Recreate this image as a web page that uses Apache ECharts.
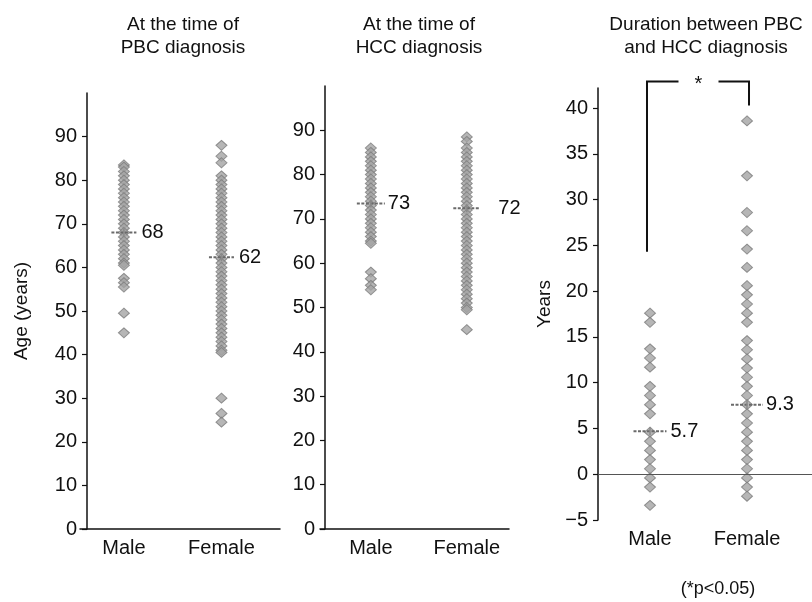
<!DOCTYPE html>
<html>
<head>
<meta charset="utf-8">
<script src="https://cdn.jsdelivr.net/npm/echarts@6/dist/echarts.min.js"></script>
<style>
  html, body { margin: 0; padding: 0; background: #fff; }
  #chart { width: 812px; height: 602px; }
</style>
</head>
<body>
<div id="chart"></div>
<script>
// categories
var categories = ['Male', 'Female'];

// age at PBC diagnosis
var pbcMale = [83.5, 83, 82, 81, 80, 79, 78, 77, 76, 75, 74, 73, 72, 71, 70, 69, 68, 67, 66, 65,
  64, 63, 62, 61, 60.5, 57.5, 56.5, 55.5, 49.5, 45];
var pbcFemale = [88, 85.5, 84, 81, 80, 79, 78, 77, 76, 75, 74, 73, 72, 71, 70, 69, 68, 67, 66, 65,
  64, 63, 62, 61, 60, 59, 58, 57, 56, 55, 54, 53, 52, 51, 50, 49, 48, 47, 46, 45, 44, 43, 42, 41,
  40.5, 30, 26.5, 24.5];
var pbcMean = [68, 62.3];
var pbcMeanLabels = ['68', '62'];

// age at HCC diagnosis
var hccMale = [86, 85, 84, 83, 82, 81, 80, 79, 78, 77, 76, 75, 74, 73, 72, 71, 70, 69, 68, 67,
  66, 65, 64.5, 58, 56.5, 55, 54];
var hccFemale = [88.5, 87.5, 86, 85, 84, 83, 82, 81, 80, 79, 78, 77, 76, 75, 74, 73, 72, 71, 70,
  69, 68, 67, 66, 65, 64, 63, 62, 61, 60, 59, 58, 57, 56, 55, 54, 53, 52, 51, 50, 49.5, 45];
var hccMean = [73.5, 72.4];
var hccMeanLabels = ['73', '72'];

// years between PBC and HCC diagnosis
var durMale = [17.6, 16.6, 13.7, 12.7, 11.7, 9.6, 8.6, 7.6, 6.6, 4.6, 3.6, 2.6, 1.6, 0.6, -0.4,
  -1.4, -3.4];
var durFemale = [38.6, 32.6, 28.6, 26.6, 24.6, 22.6, 20.6, 19.6, 18.6, 17.6, 16.6, 14.6, 13.6,
  12.6, 11.6, 10.6, 9.6, 8.6, 7.6, 6.6, 5.6, 4.6, 3.6, 2.6, 1.6, 0.6, -0.4, -1.4, -2.4];
var durMean = [4.7, 7.6];
var durMeanLabels = ['5.7', '9.3'];

// significance bracket: left arm bottom, top, right arm bottom (years)
var bracket = [24.3, 42.9, 40.3];

var ageTicks = [0, 10, 20, 30, 40, 50, 60, 70, 80, 90];
var durTicks = [-5, 0, 5, 10, 15, 20, 25, 30, 35, 40];

var FONT = 'Liberation Sans, Arial, sans-serif';
var INK = '#111';

var myChart = echarts.init(document.getElementById('chart'));

function pts(vals, idx) {
  var out = [];
  for (var i = 0; i < vals.length; i++) out.push([idx, vals[i]]);
  return out;
}

function dotSeries(k, vals, idx) {
  return {
    type: 'scatter',
    xAxisIndex: k, yAxisIndex: k,
    symbol: 'diamond',
    symbolSize: [11, 10],
    data: pts(vals, idx),
    itemStyle: { color: '#a4a4a4', borderColor: '#7c7c7c', borderWidth: 1 },
    silent: true,
    z: 3
  };
}

function meanSeries(k, means, labels, half, gaps) {
  return {
    type: 'custom',
    xAxisIndex: k, yAxisIndex: k,
    data: [[0, means[0]], [1, means[1]]],
    silent: true,
    z: 5,
    renderItem: function (params, api) {
      var p = api.coord([api.value(0), api.value(1)]);
      var i = params.dataIndex;
      return {
        type: 'group',
        children: [
          { type: 'line', shape: { x1: p[0] - half[i], y1: p[1], x2: p[0] + half[i], y2: p[1] },
            style: { stroke: '#6a6a6a', lineWidth: 2, lineDash: [3, 1.5] } },
          { type: 'line', shape: { x1: p[0], y1: p[1] - 4, x2: p[0], y2: p[1] + 4 },
            style: { stroke: '#8a8a8a', lineWidth: 1.5 } },
          { type: 'text', x: p[0] + half[i] + gaps[i], y: p[1],
            style: { text: labels[i], font: '20px ' + FONT, fill: INK, verticalAlign: 'middle', align: 'left' } }
        ]
      };
    }
  };
}

function xAxisFor(k, min, max, showLine) {
  return {
    gridIndex: k,
    type: 'value',
    min: min, max: max,
    splitLine: { show: false },
    axisTick: { show: false },
    axisLine: { show: showLine, onZero: false, lineStyle: { color: INK, width: 1.5 } },
    axisLabel: {
      customValues: [0, 1],
      formatter: function (v) { return categories[Math.round(v)]; },
      fontSize: 20, fontFamily: FONT, color: INK, margin: 9
    }
  };
}

function yAxisFor(k, min, max, ticks, offset, name, nameGap) {
  return {
    gridIndex: k,
    type: 'value',
    min: min, max: max,
    offset: offset,
    name: name,
    nameLocation: 'middle',
    nameGap: nameGap,
    nameTextStyle: { fontSize: 19, fontFamily: FONT, color: INK },
    splitLine: { show: false },
    axisLine: { show: true, onZero: false, lineStyle: { color: INK, width: 1.5 } },
    axisTick: { show: true, length: 5, customValues: ticks, lineStyle: { color: INK, width: 1.2 } },
    axisLabel: {
      customValues: ticks, fontSize: 20, fontFamily: FONT, color: INK, margin: 10,
      formatter: function (v) { return String(v).replace('-', '\u2212'); }
    }
  };
}

var option = {
  animation: false,
  backgroundColor: '#fff',
  grid: [
    { left: 80, top: 93, width: 200, height: 436 },
    { left: 320, top: 86, width: 189, height: 443 },
    { left: 598, top: 88, width: 214, height: 432 }
  ],
  xAxis: [
    xAxisFor(0, -0.45, 1.6, true),
    xAxisFor(1, -0.53, 1.44, true),
    xAxisFor(2, -0.536, 1.67, false)
  ],
  yAxis: [
    yAxisFor(0, 0, 100, ageTicks, -7, 'Age (years)', 56),
    yAxisFor(1, 0, 100, ageTicks, -5, '', 0),
    yAxisFor(2, -5, 42.2, durTicks, 0, 'Years', 44)
  ],
  series: [
    dotSeries(0, pbcMale, 0),
    dotSeries(0, pbcFemale, 1),
    meanSeries(0, pbcMean, pbcMeanLabels, [12.5, 12.5], [5, 5]),
    dotSeries(1, hccMale, 0),
    dotSeries(1, hccFemale, 1),
    meanSeries(1, hccMean, hccMeanLabels, [14, 13.5], [3, 18]),
    dotSeries(2, durMale, 0),
    dotSeries(2, durFemale, 1),
    meanSeries(2, durMean, durMeanLabels, [16.5, 16], [4, 3]),
    {
      // zero line for the duration panel
      type: 'scatter',
      xAxisIndex: 2, yAxisIndex: 2,
      data: [],
      markLine: {
        silent: true,
        symbol: 'none',
        label: { show: false },
        lineStyle: { color: '#555', width: 1, type: 'solid' },
        data: [{ yAxis: 0 }]
      }
    },
    {
      // significance bracket
      type: 'custom',
      xAxisIndex: 2, yAxisIndex: 2,
      data: [[0, bracket[0]]],
      silent: true,
      clip: false,
      renderItem: function (params, api) {
        var a = api.coord([0, bracket[0]]);
        var t = api.coord([0, bracket[1]]);
        var b = api.coord([1, bracket[2]]);
        var mid = (a[0] + b[0]) / 2;
        var st = { stroke: INK, lineWidth: 2, fill: null };
        return {
          type: 'group',
          children: [
            { type: 'polyline', shape: { points: [[a[0] - 3, a[1]], [a[0] - 3, t[1]], [mid - 20, t[1]]] }, style: st },
            { type: 'polyline', shape: { points: [[mid + 20, t[1]], [b[0] + 2, t[1]], [b[0] + 2, b[1]]] }, style: st },
            { type: 'text', x: mid, y: t[1] + 3,
              style: { text: '*', font: '20px ' + FONT, fill: INK, align: 'center', verticalAlign: 'middle' } }
          ]
        };
      }
    }
  ],
  graphic: [
    { type: 'text', x: 183, y: 13, silent: true,
      style: { text: 'At the time of\nPBC diagnosis', font: '19px ' + FONT, lineHeight: 23, fill: INK, align: 'center' } },
    { type: 'text', x: 419, y: 13, silent: true,
      style: { text: 'At the time of\nHCC diagnosis', font: '19px ' + FONT, lineHeight: 23, fill: INK, align: 'center' } },
    { type: 'text', x: 706, y: 13, silent: true,
      style: { text: 'Duration between PBC\nand HCC diagnosis', font: '19px ' + FONT, lineHeight: 23, fill: INK, align: 'center' } },
    { type: 'text', x: 718, y: 580, silent: true,
      style: { text: '(*p<0.05)', font: '18px ' + FONT, fill: INK, align: 'center' } }
  ]
};

myChart.setOption(option);
</script>
</body>
</html>
